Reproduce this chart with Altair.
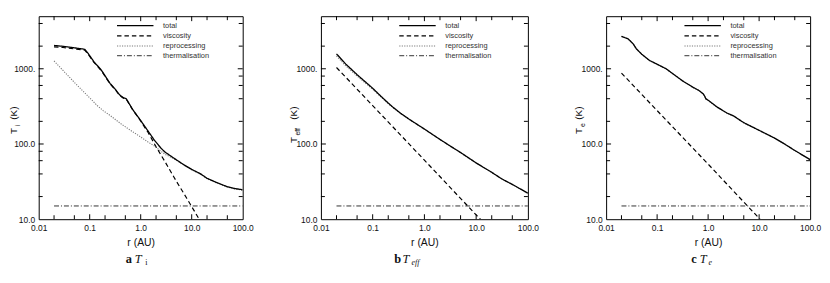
import altair as alt
import pandas as pd

SERIES = ["total", "viscosity", "reprocessing", "thermalisation"]
DRAW_ORDER = ["thermalisation", "reprocessing", "viscosity", "total"]
COLORS = ["#000000", "#000000", "#7a7a7a", "#333333"]
DASHES = [[1, 0], [4.5, 3], [1.2, 1.3], [5, 2, 1, 2]]
WIDTHS = [1.3, 1.0, 1.0, 1.0]

X_LABEL_VALUES = [0.01, 0.1, 1, 10, 100]
X_LABELS = ["0.01", "0.1", "1.0", "10.0", "100.0"]
Y_LABEL_VALUES = [10, 100, 1000]
Y_LABELS = ["10.0", "100.0", "1000."]
X_MAJOR = [0.1, 1, 10]
X_MINOR = [0.02, 0.05, 0.2, 0.5, 2, 5, 20, 50]
Y_MAJOR = [100, 1000]
Y_MINOR = [20, 40, 60, 80, 200, 400, 600, 800, 2000, 4000]

# ---- panel a : T_i ----
a_total_r = [0.02, 0.03, 0.05, 0.08, 0.093, 0.12, 0.17, 0.25, 0.32, 0.385, 0.45, 0.52, 0.7,
             1.0, 1.4, 1.86, 2.5, 3.0, 4.6, 7.0, 10.0, 15.0, 20.0, 30.0, 50.0, 70.0, 100.0]
a_total_T = [2040, 1990, 1900, 1815, 1600, 1250, 955, 640, 530, 450, 415, 400, 286,
             205, 148, 112, 88, 78, 64, 53, 46, 40, 35, 31, 27, 25.6, 24.6]
a_visc_r = [0.02, 0.03, 0.05, 0.08, 0.093, 0.12, 0.17, 0.25, 0.32, 0.385, 0.45, 0.52, 0.7,
            1.0, 1.4, 2.0, 3.0, 5.0, 8.0, 14.0]
a_visc_T = [1960, 1920, 1840, 1770, 1560, 1225, 940, 632, 524, 445, 410, 395, 283,
            202, 142, 92, 58, 32, 19, 10]
a_rep_r = [0.02, 0.03, 0.05, 0.1, 0.14, 0.183, 0.25, 0.3, 0.417, 0.7, 1.0, 1.4, 1.86, 2.5,
           3.0, 4.6, 7.0, 10.0, 15.0, 20.0, 30.0, 50.0, 70.0, 100.0]
a_rep_T = [1270, 950, 660, 410, 325, 278, 240, 218, 184, 145, 124, 106, 94, 80,
           73, 63, 52.5, 45.5, 39.5, 34.5, 30.5, 26.8, 25.3, 24.3]

# ---- panel b : T_eff ----
b_total_r = [0.02, 0.03, 0.05, 0.1, 0.15, 0.2, 0.25, 0.35, 0.5, 0.7, 1.0, 2.0, 3.15, 5.0,
             10.0, 20.0, 31.4, 50.0, 100.0]
b_total_T = [1580, 1160, 835, 551, 421, 350, 306, 255, 215, 185, 158, 115, 94, 77,
             56, 42, 34.3, 29, 22.2]
b_visc_r = [0.02, 0.1, 1.0, 10.0, 12.1]
b_visc_T = [1040, 324, 61, 11.4, 10]
b_rep_r = [0.02, 0.03, 0.05, 0.1, 0.15, 0.2, 0.25, 0.35, 0.5, 0.7, 1.0, 2.0, 3.15, 5.0,
           10.0, 20.0, 31.4, 50.0, 100.0]
b_rep_T = [1480, 1100, 800, 535, 412, 344, 302, 252, 213, 184, 157, 114.5, 93.7, 76.8,
           55.9, 41.9, 34.2, 28.9, 22.1]

# ---- panel c : T_e ----
c_total_r = [0.02, 0.027, 0.034, 0.039, 0.05, 0.071, 0.1, 0.15, 0.316, 0.5, 0.66, 0.8, 0.86,
             0.9, 1.0, 1.5, 2.34, 3.16, 5.0, 10.0, 20.0, 31.6, 50.0, 100.0]
c_total_T = [2700, 2500, 2140, 1850, 1560, 1290, 1150, 1000, 690, 570, 515, 465, 430,
             400, 382, 310, 258, 236, 192, 152, 120, 100, 82, 62]
c_visc_r = [0.02, 0.1, 1.0, 10.4]
c_visc_T = [877, 278, 54, 10]
c_rep_r = [0.02, 0.027, 0.034, 0.039, 0.05, 0.071, 0.1, 0.15, 0.316, 0.5, 0.66, 0.8, 0.86,
           0.9, 1.0, 1.5, 2.34, 3.16, 5.0, 10.0, 20.0, 31.6, 50.0, 100.0]
c_rep_T = [2690, 2490, 2130, 1840, 1555, 1285, 1145, 996, 688, 568, 513, 463, 428,
           398, 380, 309, 257, 235, 191, 151, 119.5, 99.6, 81.7, 61.8]

therm_r = [0.02, 100.0]
therm_T = [15, 15]

SANS = "Liberation Sans"
SERIF = "Liberation Serif"
H = 205


def label_expr(values, labels):
    expr = "''"
    for v, l in reversed(list(zip(values, labels))):
        expr = f"abs(datum.value - {v}) < {v}*0.001 ? '{l}' : ({expr})"
    return expr


X_AXIS = alt.Axis(
    values=X_LABEL_VALUES, labelExpr=label_expr(X_LABEL_VALUES, X_LABELS),
    ticks=False, domain=False, grid=False, title="r (AU)", labelFlush=False,
    labelOverlap=False, labelFont=SANS, labelFontSize=8.5, labelColor="#111111",
    labelPadding=4, titleFont=SANS, titleFontSize=10.5, titleFontWeight="normal",
    titleColor="#111111", titlePadding=6)
Y_AXIS = alt.Axis(
    values=Y_LABEL_VALUES, labelExpr=label_expr(Y_LABEL_VALUES, Y_LABELS),
    ticks=False, domain=False, grid=False, title=None, labelFlush=False,
    labelOverlap=False, labelFont=SANS, labelFontSize=8.5, labelColor="#111111",
    labelPadding=4)


def text_layer(txt, x, y, size, font=SANS, weight="normal", style="normal", angle=0):
    return alt.Chart(pd.DataFrame({"k": [0]})).mark_text(
        text=txt, font=font, fontSize=size, fontWeight=weight, fontStyle=style,
        align="left", baseline="alphabetic", angle=angle, color="#111111"
    ).encode(x=alt.value(x), y=alt.value(y))


def make_panel(W, data, ytitle, caption):
    rows = []
    for name in DRAW_ORDER:
        rr, tt = data[name]
        for rv, tv in zip(rr, tt):
            rows.append({"r": rv, "T": tv, "series": name})
    df = pd.DataFrame(rows)
    xs = alt.Scale(type="log", domain=[0.01, 100], nice=False)
    ys = alt.Scale(type="log", domain=[10, 5000], nice=False)
    leg = alt.Legend(title=None, orient="none", legendX=92.5, legendY=4.5,
                     symbolType="M-4.6,0H4.6", symbolSize=64, labelOffset=23,
                     labelFont=SANS, labelFontSize=7.5, labelColor="#333333",
                     padding=0, rowPadding=1.3, symbolOpacity=1)
    lines = alt.Chart(df).mark_line(clip=True, strokeCap="butt").encode(
        x=alt.X("r:Q", scale=xs, axis=X_AXIS),
        y=alt.Y("T:Q", scale=ys, axis=Y_AXIS),
        color=alt.Color("series:N", scale=alt.Scale(domain=SERIES, range=COLORS), legend=leg),
        strokeDash=alt.StrokeDash("series:N", scale=alt.Scale(domain=SERIES, range=DASHES), legend=leg),
        strokeWidth=alt.StrokeWidth("series:N", scale=alt.Scale(domain=SERIES, range=WIDTHS), legend=leg),
    )
    layers = [lines]
    for vals, ln in ((X_MAJOR, 5), (X_MINOR, 4)):
        tdf = pd.DataFrame({"r": vals})
        layers.append(alt.Chart(tdf).mark_rule(color="black", strokeWidth=1).encode(
            x=alt.X("r:Q", scale=xs, axis=X_AXIS), y=alt.value(H), y2=alt.value(H - ln)))
        layers.append(alt.Chart(tdf).mark_rule(color="black", strokeWidth=1).encode(
            x=alt.X("r:Q", scale=xs, axis=X_AXIS), y=alt.value(0), y2=alt.value(ln)))
    for vals, ln in ((Y_MAJOR, 5), (Y_MINOR, 4)):
        tdf = pd.DataFrame({"T": vals})
        layers.append(alt.Chart(tdf).mark_rule(color="black", strokeWidth=1).encode(
            y=alt.Y("T:Q", scale=ys, axis=Y_AXIS), x=alt.value(0), x2=alt.value(ln)))
        layers.append(alt.Chart(tdf).mark_rule(color="black", strokeWidth=1).encode(
            y=alt.Y("T:Q", scale=ys, axis=Y_AXIS), x=alt.value(W), x2=alt.value(W - ln)))
    for (txt, x, y, size) in ytitle:
        layers.append(text_layer(txt, x, y, size, angle=270))
    for (txt, x, y, size, font, weight, style) in caption:
        layers.append(text_layer(txt, x, y, size, font=font, weight=weight, style=style))
    return alt.layer(*layers).properties(width=W, height=H)


pa = make_panel(
    206,
    {"total": (a_total_r, a_total_T), "viscosity": (a_visc_r, a_visc_T),
     "reprocessing": (a_rep_r, a_rep_T), "thermalisation": (therm_r, therm_T)},
    [("T", -22, 119, 10), ("i", -19, 111.5, 7), ("(K)", -22, 104.5, 10)],
    [("a", 88, 249, 12.5, SERIF, "bold", "normal"), ("T", 97, 249, 12.5, SERIF, "normal", "italic"),
     ("i", 107.5, 251.5, 8, SERIF, "normal", "normal")],
)
pb = make_panel(
    209,
    {"total": (b_total_r, b_total_T), "viscosity": (b_visc_r, b_visc_T),
     "reprocessing": (b_rep_r, b_rep_T), "thermalisation": (therm_r, therm_T)},
    [("T", -24, 128, 10), ("eff", -21, 120.5, 7), ("(K)", -24, 104.5, 10)],
    [("b", 74, 249, 12.5, SERIF, "bold", "normal"), ("T", 82.5, 249, 12.5, SERIF, "normal", "italic"),
     ("eff", 91.5, 251.5, 8, SERIF, "normal", "italic")],
)
pc = make_panel(
    206,
    {"total": (c_total_r, c_total_T), "viscosity": (c_visc_r, c_visc_T),
     "reprocessing": (c_rep_r, c_rep_T), "thermalisation": (therm_r, therm_T)},
    [("T", -24, 119, 10), ("e", -21, 112, 7), ("(K)", -24, 104.5, 10)],
    [("c", 86, 249, 12.5, SERIF, "bold", "normal"), ("T", 94.5, 249, 12.5, SERIF, "normal", "italic"),
     ("e", 103.5, 251.5, 8, SERIF, "normal", "italic")],
)

chart = alt.hconcat(pa, pb, pc, spacing=34).resolve_scale(
    color="independent", strokeDash="independent", strokeWidth="independent"
).resolve_legend(
    color="independent", strokeDash="independent", strokeWidth="independent"
).properties(
    padding={"left": 0, "top": 6, "right": 0, "bottom": 0}, background="white"
).configure_view(stroke="black", strokeWidth=1)

chart.save("out.html", embed_options={"renderer": "svg", "actions": False})
